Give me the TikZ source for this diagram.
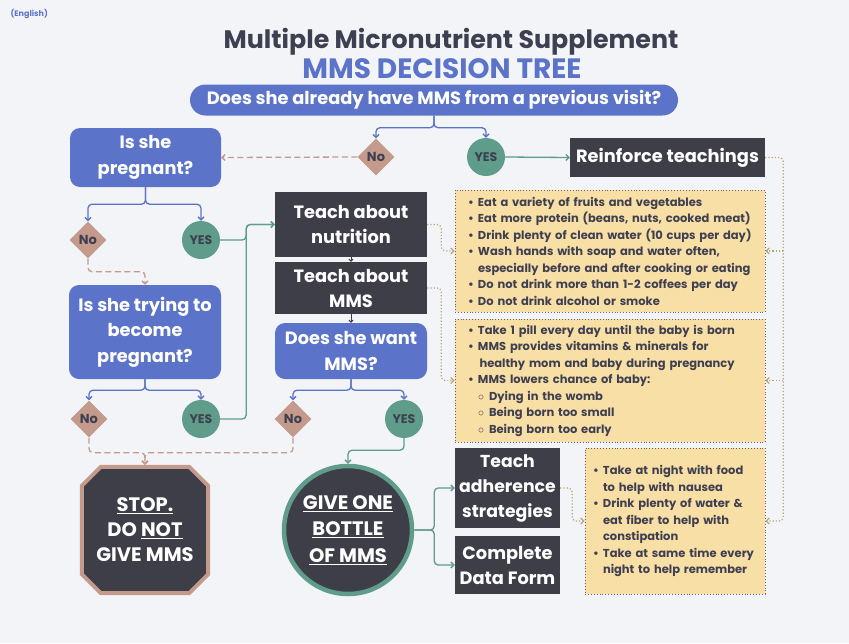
\documentclass[tikz,border=0pt]{standalone}
\usepackage{fontspec}
\setmainfont{Poppins}
\usepackage{tikz}
\usetikzlibrary{arrows.meta,shapes.geometric,calc}
\definecolor{mmsBg}{HTML}{F3F4F8}
\definecolor{mmsInk}{HTML}{3E3F50}
\definecolor{mmsBlue}{HTML}{5B73C8}
\definecolor{mmsDark}{HTML}{3D3E47}
\definecolor{mmsRose}{HTML}{C39A8B}
\definecolor{mmsTeal}{HTML}{5F9C89}
\definecolor{mmsSand}{HTML}{F8DFA6}
\definecolor{mmsKhaki}{HTML}{B8A778}
\newcommand{\tipitem}[1]{\makebox[10pt][l]{\textbullet}#1}
\newcommand{\tipmore}[1]{\hspace*{10pt}#1}
\newcommand{\tipsub}[1]{\hspace*{10pt}\makebox[11pt][l]{$\circ$}#1}

\begin{document}
\begin{tikzpicture}[x=1pt,y=-1pt,font=\bfseries,
    question/.style={fill=mmsBlue,text=white,rounded corners=10pt,align=center,
                     inner sep=0pt,font=\fontsize{17.8}{25.5}\selectfont\bfseries},
    teachbox/.style={fill=mmsDark,text=white,align=center,inner sep=0pt,
                     font=\fontsize{17.8}{25}\selectfont\bfseries},
    nodiamond/.style={diamond,aspect=1,fill=mmsRose,text=mmsInk,inner sep=0pt,
                      minimum width=37pt,minimum height=37pt,
                      font=\fontsize{13}{14}\selectfont\bfseries},
    yescircle/.style={circle,fill=mmsTeal,text=mmsInk,inner sep=0pt,minimum size=38pt,
                      font=\fontsize{12.5}{14}\selectfont\bfseries},
    tipbox/.style={fill=mmsSand,draw=mmsInk!80,dotted,line width=0.9pt,text=mmsInk,
                   align=left,inner ysep=0pt,
                   font={\fontsize{11.5}{16.5}\selectfont\bfseries\hyphenpenalty=10000\relax}},
    flow/.style={-{Straight Barb[length=3pt,width=6pt]},line width=1.3pt,rounded corners=4pt},
    blueflow/.style={flow,mmsBlue},
    tealflow/.style={flow,mmsTeal},
    roseflow/.style={flow,mmsRose,dash pattern=on 6pt off 3.5pt},
    dotflow/.style={flow,mmsKhaki,line width=1.2pt,dotted}]
  \fill[mmsBg] (0,0) rectangle (849,643);
  \useasboundingbox (0,0) rectangle (849,643);

  \node[anchor=west,text=mmsBlue,font=\fontsize{8}{9}\selectfont\bfseries] (lang) at (7,14) {(English)};
  \node[text=mmsInk,font=\fontsize{25.3}{28}\selectfont\bfseries] (title) at (451,42) {Multiple Micronutrient Supplement};
  \node[text=mmsBlue,font=\fontsize{28}{30}\selectfont\bfseries] (subtitle) at (442,69) {MMS DECISION TREE};
  \node[question,rounded corners=15.5pt,minimum width=488pt,minimum height=31pt] (visit) at (434,100)
       {Does she already have MMS from a previous visit?};

  \node[nodiamond] (no1) at (376,157) {No};
  \node[yescircle] (yes1) at (486,157) {YES};
  \node[teachbox,minimum width=195pt,minimum height=39pt] (reinforce) at (667.5,157.5) {Reinforce teachings};

  \node[question,minimum width=151pt,minimum height=59pt] (pregnant) at (145.5,157.5) {Is she\\pregnant?};
  \node[nodiamond] (no2) at (88,240) {No};
  \node[yescircle] (yes2) at (201,240) {YES};
  \node[question,minimum width=152pt,minimum height=94pt] (trying) at (145,332) {Is she trying to\\become\\pregnant?};
  \node[nodiamond] (no3) at (89,419) {No};
  \node[yescircle] (yes3) at (201,419) {YES};

  \node[teachbox,minimum width=152pt,minimum height=65pt] (nutrition) at (351,224.5) {Teach about\\nutrition};
  \node[teachbox,minimum width=152pt,minimum height=52pt] (aboutmms) at (351,288) {Teach about\\MMS};
  \node[question,minimum width=152pt,minimum height=56pt] (want) at (351,351) {Does she want\\MMS?};
  \node[nodiamond] (no4) at (293,419) {No};
  \node[yescircle] (yes4) at (404,419) {YES};

  \node[minimum size=130pt,inner sep=0pt] (stop) at (145,530) {};
  \filldraw[fill=mmsDark,draw=mmsRose,line width=4pt,line join=miter]
    ($(stop.north west)+(21,2)$) -- ($(stop.north east)+(-21,2)$) -- ($(stop.north east)+(-2,21)$)
    -- ($(stop.south east)+(-2,-21)$) -- ($(stop.south east)+(-21,-2)$) -- ($(stop.south west)+(21,-2)$)
    -- ($(stop.south west)+(2,-21)$) -- ($(stop.north west)+(2,21)$) -- cycle;
  \node[text=white,align=center,font=\fontsize{19.5}{25}\selectfont\bfseries] (stoptext) at (stop)
       {\underline{STOP.}\\DO \underline{NOT}\\GIVE MMS};
  \node[circle,minimum size=128pt,fill=mmsDark,draw=mmsTeal,line width=4.5pt,text=white,
        align=center,inner sep=0pt,font=\fontsize{19.5}{26.5}\selectfont\bfseries] (give) at (348,530)
       {\underline{GIVE ONE}\\\underline{BOTTLE}\\\underline{OF MMS}};
  \node[teachbox,minimum width=105pt,minimum height=80pt,font=\fontsize{17.3}{25}\selectfont\bfseries]
       (adherence) at (507.5,488) {Teach\\adherence\\strategies};
  \node[teachbox,minimum width=105pt,minimum height=58pt] (dataform) at (507.5,565) {Complete\\Data Form};

  \node[tipbox,text width=284pt,inner xsep=13pt,minimum height=122pt] (tipfood) at (610,251)
       {\tipitem{Eat a variety of fruits and vegetables}\\
        \tipitem{Eat more protein (beans, nuts, cooked meat)}\\
        \tipitem{Drink plenty of clean water (10 cups per day)}\\
        \tipitem{Wash hands with soap and water often,}\\
        \tipmore{especially before and after cooking or eating}\\
        \tipitem{Do not drink more than 1-2 coffees per day}\\
        \tipitem{Do not drink alcohol or smoke}};
  \node[tipbox,text width=284pt,inner xsep=13pt,minimum height=123pt] (tipmms) at (610,380.5)
       {\tipitem{Take 1 pill every day until the baby is born}\\
        \tipitem{MMS provides vitamins \& minerals for}\\
        \tipmore{\hspace*{1.5pt}healthy mom and baby during pregnancy}\\
        \tipitem{MMS lowers chance of baby:}\\
        \tipsub{Dying in the womb}\\
        \tipsub{Being born too small}\\
        \tipsub{Being born too early}};
  \node[tipbox,text width=164pt,inner xsep=8pt,minimum height=146pt] (tipadh) at (675,521)
       {\tipitem{Take at night with food}\\
        \tipmore{to help with nausea}\\
        \tipitem{Drink plenty of water \&}\\
        \tipmore{eat fiber to help with}\\
        \tipmore{constipation}\\
        \tipitem{Take at same time every}\\
        \tipmore{night to help remember}};

  \draw[blueflow] (visit.south) -- ++(0,12) -| (no1.north);
  \draw[blueflow] (visit.south) -- ++(0,12) -| (yes1.north);
  \draw[roseflow] (no1.west) -- (pregnant.east);
  \draw[tealflow] (yes1.east) -- (reinforce.west);

  \draw[blueflow] (pregnant.south) -- ++(0,17) -| (no2.north);
  \draw[blueflow] (pregnant.south) -- ++(0,17) -| (yes2.north);
  \draw[roseflow] (no2.south) -- ++(0,13) -| (trying.north);
  \draw[blueflow] (trying.south) -- ++(0,11) -| (no3.north);
  \draw[blueflow] (trying.south) -- ++(0,11) -| (yes3.north);
  \draw[tealflow] (yes2.east) -- ++(26,0) |- (nutrition.west);
  \draw[tealflow] (yes3.east) -- ++(26,0) |- (nutrition.west);

  \draw[-{Straight Barb[length=2pt,width=4pt]},mmsDark,line width=1pt] (nutrition.south) -- (aboutmms.north);
  \draw[-{Straight Barb[length=2pt,width=4pt]},mmsDark,line width=1pt] (aboutmms.south) -- (want.north);
  \draw[blueflow] (want.south) -- ++(0,11) -| (no4.north);
  \draw[blueflow] (want.south) -- ++(0,11) -| (yes4.north);

  \draw[roseflow] (no3.south) -- ++(0,15) -| (stop.north);
  \draw[roseflow] (no4.south) -- ++(0,15) -| (stop.north);
  \draw[tealflow] (yes4.south) -- ++(0,12) -| (give.north);
  \draw[tealflow] (give.east) -- ++(20,0) |- (adherence.west);
  \draw[tealflow] (give.east) -- ++(20,0) |- (dataform.west);

  \draw[dotflow] (nutrition.east) -- ++(14,0) |- (tipfood.west);
  \draw[dotflow] (aboutmms.east) -- ++(14,0) |- (tipmms.west);
  \draw[dotflow] (adherence.east) -- ++(12,0) |- (tipadh.west);
  \coordinate (rail) at ($(reinforce.east)+(18,0)$);
  \draw[dotflow] (reinforce.east) -- (rail) |- (tipadh.east);
  \draw[dotflow] (rail |- tipfood.east) -- (tipfood.east);
  \draw[dotflow] (rail |- tipmms.east) -- (tipmms.east);
\end{tikzpicture}
\end{document}
